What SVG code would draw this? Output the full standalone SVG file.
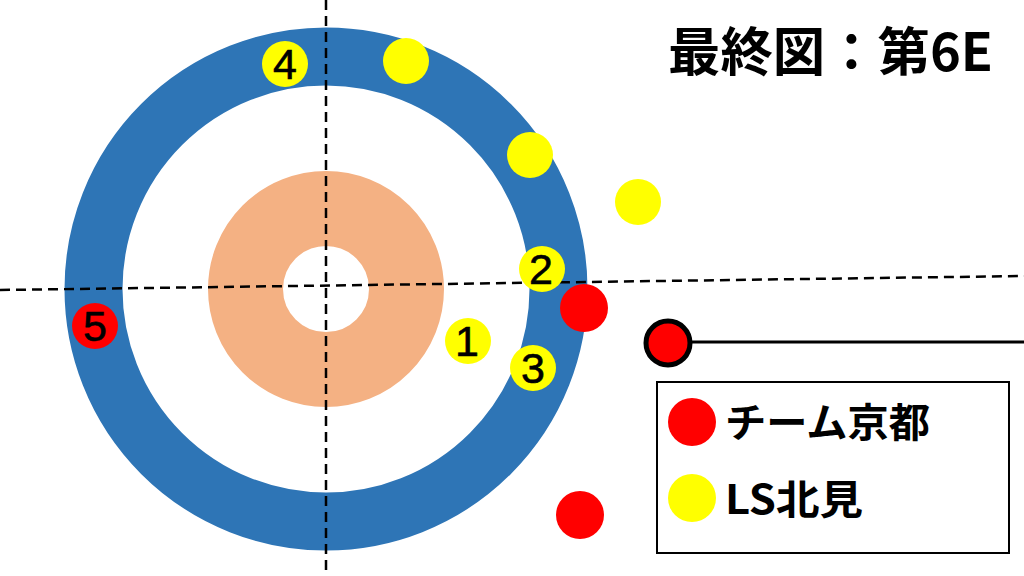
<svg xmlns="http://www.w3.org/2000/svg" width="1024" height="576" viewBox="0 0 1024 576">
<style>
.y{fill:#FFFF00}
.r{fill:#FF0000}
.num{font-family:"Liberation Sans","Noto Sans CJK JP",sans-serif;font-size:43px;fill:#000;stroke:#000;stroke-width:0.6;text-anchor:middle}
.dash{stroke:#000;stroke-width:2.5;stroke-dasharray:10 6;fill:none}
.lbl{font-family:"Noto Sans CJK JP",sans-serif;font-weight:bold;fill:#000}
</style>
<rect width="1024" height="576" fill="#fff"/>
<g id="house">
<circle cx="326" cy="289" r="232.5" fill="none" stroke="#2E75B6" stroke-width="58"/>
<circle cx="326" cy="289" r="80.5" fill="none" stroke="#F4B183" stroke-width="75"/>
</g>
<g id="guides">
<line class="dash" x1="326" y1="0" x2="326" y2="576"/>
<line class="dash" x1="0" y1="290" x2="1024" y2="276"/>
</g>
<g id="stone4"><circle class="y" cx="285" cy="64" r="23"/><text class="num" x="285" y="79">4</text></g>
<g id="stoneY1"><circle class="y" cx="406" cy="61" r="23"/></g>
<g id="stoneY2"><circle class="y" cx="530" cy="155" r="23"/></g>
<g id="stoneY3"><circle class="y" cx="638" cy="202" r="23"/></g>
<g id="stone2"><circle class="y" cx="542" cy="269" r="23"/><text class="num" x="541" y="284">2</text></g>
<g id="stoneR1"><circle class="r" cx="584" cy="308" r="24"/></g>
<g id="stone1"><circle class="y" cx="468" cy="341" r="23"/><text class="num" x="467" y="356">1</text></g>
<g id="stone3"><circle class="y" cx="533" cy="368" r="23"/><text class="num" x="533" y="383">3</text></g>
<g id="stone5"><circle class="r" cx="95" cy="326" r="23"/><text class="num" x="95" y="341">5</text></g>
<g id="stoneR2"><circle class="r" cx="580" cy="515" r="24"/></g>
<g id="connectors">
<line x1="690" y1="342" x2="1024" y2="342" stroke="#000" stroke-width="3"/>
</g>
<g id="stoneMarked"><circle class="r" cx="668" cy="343" r="22" stroke="#000" stroke-width="5"/></g>
<g id="title"><text class="lbl" x="668" y="71" font-size="52" textLength="325" lengthAdjust="spacingAndGlyphs">最終図：第6E</text></g>
<g id="legend">
<rect x="657" y="382" width="352" height="171" fill="#fff" stroke="#000" stroke-width="2"/>
<circle class="r" cx="692" cy="422" r="24"/>
<circle class="y" cx="692" cy="498" r="24"/>
<text class="lbl" x="725" y="437" font-size="40" textLength="205" lengthAdjust="spacingAndGlyphs">チーム京都</text>
<text class="lbl" x="725" y="514" font-size="40" textLength="138" lengthAdjust="spacingAndGlyphs">LS北見</text>
</g>
</svg>
